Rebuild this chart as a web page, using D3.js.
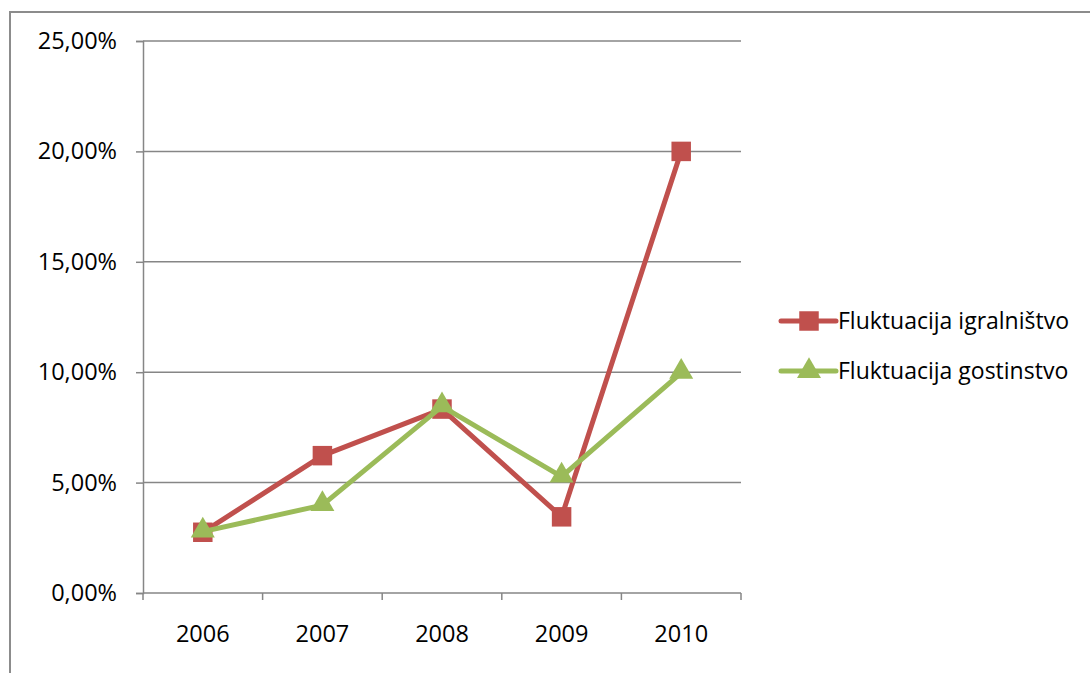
<!DOCTYPE html>
<html>
<head>
<meta charset="utf-8">
<script src="https://cdn.jsdelivr.net/npm/d3@7"></script>
<style>
  body { margin: 0; background: #fff; }
  svg text { font-family: "Open Sans", "Liberation Sans", sans-serif; fill: #000; }
</style>
</head>
<body>
<div id="chart"></div>
<script>
// data
var years = ["2006", "2007", "2008", "2009", "2010"];
var igralnistvo = [0.0275, 0.0622, 0.0833, 0.0345, 0.20];
var gostinstvo = [0.0278, 0.0398, 0.0845, 0.0527, 0.0997];
var yTickValues = [0, 0.05, 0.10, 0.15, 0.20, 0.25];
var seriesNames = ["Fluktuacija igralništvo", "Fluktuacija gostinstvo"];

var width = 1090, height = 673;
var margin = { top: 41, right: 349, bottom: 80, left: 143 };

var svg = d3.select("#chart").append("svg")
  .attr("width", width)
  .attr("height", height);

// outer frame (only top and left edge are visible)
svg.append("path")
  .attr("d", "M10," + height + " L10,12 L" + width + ",12")
  .attr("fill", "none")
  .attr("stroke", "#8c8c8c")
  .attr("stroke-width", 2);

var xScale = d3.scaleBand()
  .domain(years)
  .range([margin.left, width - margin.right]);

var yScale = d3.scaleLinear()
  .domain([0, 0.25])
  .range([height - margin.bottom, margin.top]);

var fmt = function(d) {
  return d3.format(".2f")(d * 100).replace(".", ",") + "%";
};

// horizontal gridlines
svg.append("g")
  .attr("class", "grid")
  .selectAll("line")
  .data(yTickValues.slice(1))
  .enter()
  .append("line")
  .attr("x1", margin.left)
  .attr("x2", width - margin.right)
  .attr("y1", function(d) { return yScale(d); })
  .attr("y2", function(d) { return yScale(d); })
  .attr("stroke", "#868686")
  .attr("stroke-width", 1.5);

// y axis
var yAxis = svg.append("g")
  .attr("transform", "translate(" + margin.left + ",0)")
  .call(d3.axisLeft(yScale).tickValues(yTickValues).tickFormat(fmt).tickSize(7).tickPadding(19));
yAxis.select(".domain").attr("stroke", "#868686").attr("stroke-width", 1.5);
yAxis.selectAll(".tick line").attr("stroke", "#868686").attr("stroke-width", 1.5);
yAxis.selectAll("text").style("font-size", "23.5px");

// x axis, ticks sit between the categories
var xAxis = svg.append("g")
  .attr("transform", "translate(0," + (height - margin.bottom) + ")")
  .call(d3.axisBottom(xScale).tickSize(0).tickPadding(32));
xAxis.select(".domain").attr("stroke", "#868686").attr("stroke-width", 1.5)
  .attr("d", "M" + margin.left + ",0H" + (width - margin.right));
xAxis.selectAll("text").style("font-size", "23.5px");

var bounds = years.map(function(d) { return xScale(d); }).concat([width - margin.right]);
xAxis.selectAll(".xtick")
  .data(bounds)
  .enter()
  .append("line")
  .attr("x1", function(d) { return d; })
  .attr("x2", function(d) { return d; })
  .attr("y1", 0)
  .attr("y2", 7)
  .attr("stroke", "#868686")
  .attr("stroke-width", 1.5);

var cx = function(d, i) { return xScale(years[i]) + xScale.bandwidth() / 2; };

var line = d3.line()
  .x(function(d, i) { return cx(d, i); })
  .y(function(d) { return yScale(d); });

var red = "#C0504D", green = "#9BBB59";
var square = d3.symbol().type(d3.symbolSquare).size(380);
var triangle = d3.symbol().type(d3.symbolTriangle).size(250);

// series 1
svg.append("path")
  .datum(igralnistvo)
  .attr("fill", "none")
  .attr("stroke", red)
  .attr("stroke-width", 5)
  .attr("stroke-linejoin", "round")
  .attr("d", line);

svg.selectAll(".sq")
  .data(igralnistvo)
  .enter()
  .append("path")
  .attr("class", "sq")
  .attr("d", square)
  .attr("fill", red)
  .attr("transform", function(d, i) { return "translate(" + cx(d, i) + "," + yScale(d) + ")"; });

// series 2
svg.append("path")
  .datum(gostinstvo)
  .attr("fill", "none")
  .attr("stroke", green)
  .attr("stroke-width", 5)
  .attr("stroke-linejoin", "round")
  .attr("d", line);

svg.selectAll(".tri")
  .data(gostinstvo)
  .enter()
  .append("path")
  .attr("class", "tri")
  .attr("d", triangle)
  .attr("fill", green)
  .attr("transform", function(d, i) { return "translate(" + cx(d, i) + "," + (yScale(d) - 1) + ")"; });

// legend
var legend = svg.append("g").attr("transform", "translate(781,321)");
var legendItems = [
  { name: seriesNames[0], color: red, shape: square },
  { name: seriesNames[1], color: green, shape: triangle }
];

var item = legend.selectAll(".item")
  .data(legendItems)
  .enter()
  .append("g")
  .attr("transform", function(d, i) { return "translate(0," + (i * 50) + ")"; });

item.append("line")
  .attr("x1", 0)
  .attr("x2", 55)
  .attr("stroke", function(d) { return d.color; })
  .attr("stroke-width", 5)
  .attr("stroke-linecap", "round");

item.append("path")
  .attr("d", function(d) { return d.shape(); })
  .attr("fill", function(d) { return d.color; })
  .attr("transform", "translate(28,0)");

item.append("text")
  .attr("x", 57)
  .attr("dy", "0.35em")
  .style("font-size", "23px")
  .text(function(d) { return d.name; });
</script>
</body>
</html>
